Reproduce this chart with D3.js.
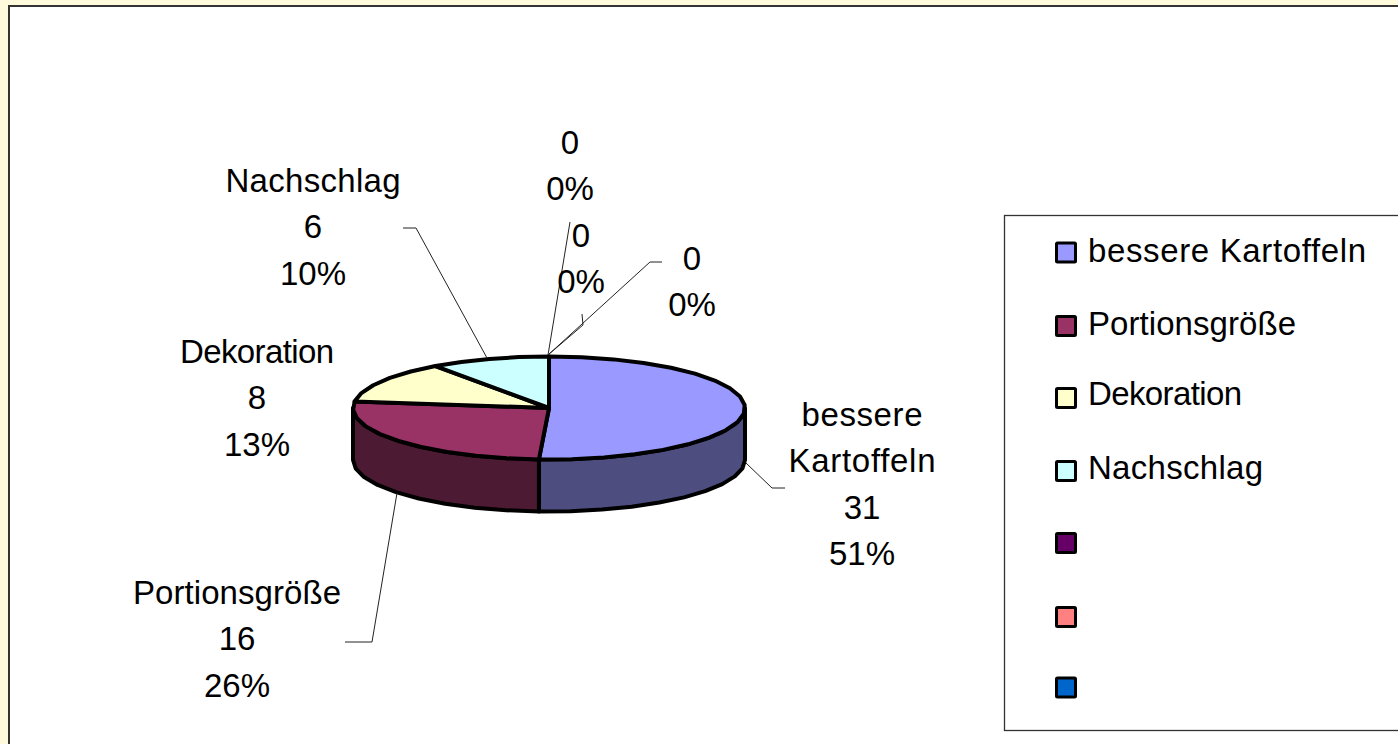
<!DOCTYPE html>
<html>
<head>
<meta charset="utf-8">
<script src="https://d3js.org/d3.v7.min.js"></script>
<style>
body { margin: 0; background: #fffadb; }
svg { display: block; }
text { font-family: "Liberation Sans", Arial, sans-serif; font-size: 33px; fill: #000; }
</style>
</head>
<body>
<div id="chart-area"></div>
<script>
var categories = ["bessere Kartoffeln", "Portionsgröße", "Dekoration", "Nachschlag", "", "", ""];
var values = [31, 16, 8, 6, 0, 0, 0];
var colors = ["#9999ff", "#993366", "#ffffcc", "#ccffff", "#660066", "#ff8080", "#0066cc"];
var sideColors = ["#4d4d80", "#4d1a33"];

// label text lines: wrapped names, the value and percent get appended below
var labelNames = [["bessere", "Kartoffeln"], ["Portionsgröße"], ["Dekoration"], ["Nachschlag"], [], [], []];

var width = 1398, height = 744;
var cx = 549, cy = 408, rx = 196, ry = 51.5, depth = 52;

// where each label sits and how its leader line runs
var labelPos = [
    { x: 862, y: 414, leader: [[772, 488], [785, 488]], from: [746, 463] },
    { x: 237, y: 592, leader: [[372, 642], [345, 642]], from: [397, 493] },
    { x: 257, y: 351, leader: null },
    { x: 313, y: 180, leader: [[416, 228], [403, 228]], from: [487, 358] },
    { x: 570, y: 142, leader: [[570, 222]], from: [548, 355] },
    { x: 581, y: 235, leader: [[583, 325], [582, 314]], from: [548, 355] },
    { x: 692, y: 258, leader: [[650, 262], [662, 262]], from: [548, 355] }
];

// the source renders names a little wider than the font does
var textWidths = {
    "bessere": 121, "Kartoffeln": 147, "Portionsgröße": 208, "Dekoration": 154,
    "Nachschlag": 175, "bessere Kartoffeln": 278
};

var svg = d3.select("#chart-area").append("svg")
    .attr("width", width)
    .attr("height", height);

// page frame
svg.append("rect")
    .attr("x", 9).attr("y", 6)
    .attr("width", width).attr("height", height)
    .attr("fill", "#fff")
    .attr("stroke", "#333")
    .attr("stroke-width", 2);

var pie = d3.pie().sort(null).value(function(d) { return d; });
var arcs = pie(values);
var total = d3.sum(values);
var pct = d3.format(".0%");

var xScale = d3.scaleLinear().domain([-1, 1]).range([cx - rx, cx + rx]);
var yScale = d3.scaleLinear().domain([-1, 1]).range([cy + ry, cy - ry]);

var line = d3.line()
    .x(function(d) { return xScale(Math.sin(d.a)); })
    .y(function(d) { return yScale(Math.cos(d.a)) + (d.down || 0); });

function arcPoints(a0, a1, down) {
    var n = Math.max(1, Math.ceil((a1 - a0) / (Math.PI / 18)));
    return d3.range(n + 1).map(function(i) {
        return { a: a0 + (a1 - a0) * i / n, down: down };
    });
}

// side wall, only the front half of the ellipse shows
arcs.forEach(function(d, i) {
    var a0 = Math.max(d.startAngle, Math.PI / 2);
    var a1 = Math.min(d.endAngle, 3 * Math.PI / 2);
    if (a1 <= a0 || d.value == 0) return;
    var pts = arcPoints(a0, a1, 0).concat(arcPoints(a0, a1, depth).reverse());
    svg.append("path")
        .attr("d", line(pts) + "Z")
        .attr("fill", sideColors[i])
        .attr("stroke", "#000")
        .attr("stroke-width", 4)
        .attr("stroke-linejoin", "round");
});

// top of the pie
arcs.forEach(function(d, i) {
    if (d.value == 0) return;
    var centre = "L" + cx + "," + cy + "Z";
    svg.append("path")
        .attr("d", line(arcPoints(d.startAngle, d.endAngle, 0)) + centre)
        .attr("fill", colors[i])
        .attr("stroke", "#000")
        .attr("stroke-width", 4)
        .attr("stroke-linejoin", "round");
});

// leader lines
var leaderLine = d3.line();
labelPos.forEach(function(p) {
    if (!p.leader) return;
    svg.append("path")
        .attr("d", leaderLine([p.from].concat(p.leader)))
        .attr("fill", "none")
        .attr("stroke", "#222")
        .attr("stroke-width", 1);
});

function fitText(sel, t) {
    if (textWidths[t]) sel.attr("textLength", textWidths[t]).attr("lengthAdjust", "spacing");
}

// data labels
labelPos.forEach(function(p, i) {
    var lines = labelNames[i].concat([values[i], pct(values[i] / total)]);
    var g = svg.append("g");
    lines.forEach(function(t, j) {
        g.append("text")
            .attr("x", p.x)
            .attr("y", p.y + j * 46.5)
            .attr("dy", "0.35em")
            .attr("text-anchor", "middle")
            .text(t)
            .call(fitText, t);
    });
});

// legend
var legendY = d3.scaleOrdinal().domain(d3.range(categories.length))
    .range([252.5, 326, 398, 471, 543, 617, 687.5]);
var legendTextY = d3.scaleOrdinal().domain(d3.range(categories.length))
    .range([250.5, 323.5, 393.5, 467.5, 543, 617, 687.5]);

svg.append("rect")
    .attr("x", 1004.5).attr("y", 215.5)
    .attr("width", 400).attr("height", 515)
    .attr("fill", "#fff")
    .attr("stroke", "#333")
    .attr("stroke-width", 1.3);

var legend = svg.selectAll(".legend").data(categories).enter().append("g")
    .attr("class", "legend");

legend.append("rect")
    .attr("x", 1056.5)
    .attr("y", function(d, i) { return legendY(i) - 9.5; })
    .attr("width", 19).attr("height", 19)
    .attr("rx", 1)
    .attr("fill", function(d, i) { return colors[i]; })
    .attr("stroke", "#000")
    .attr("stroke-width", 3);

legend.append("text")
    .attr("x", 1088)
    .attr("y", function(d, i) { return legendTextY(i); })
    .attr("dy", "0.35em")
    .each(function(d) {
        d3.select(this).text(d).call(fitText, d);
    });
</script>
</body>
</html>
